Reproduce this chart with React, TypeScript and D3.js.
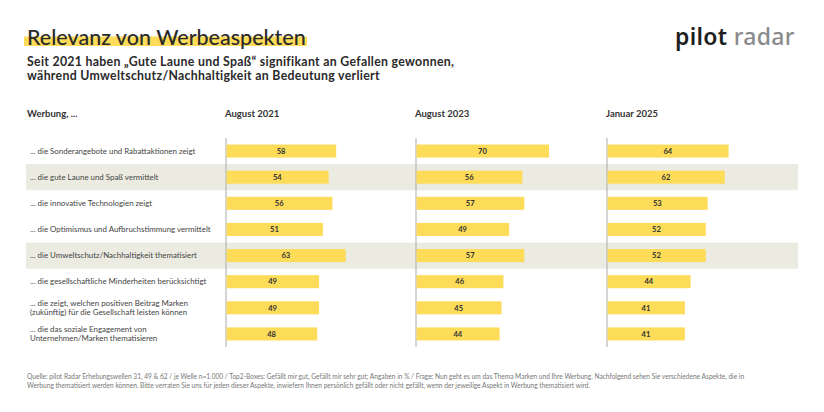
import React from "react";
import * as d3 from "d3";

const categories: string[][] = [
  ["... die Sonderangebote und Rabattaktionen zeigt"],
  ["... die gute Laune und Spaß vermittelt"],
  ["... die innovative Technologien zeigt"],
  ["... die Optimismus und Aufbruchstimmung vermittelt"],
  ["... die Umweltschutz/Nachhaltigkeit thematisiert"],
  ["... die gesellschaftliche Minderheiten berücksichtigt"],
  ["... die zeigt, welchen positiven Beitrag Marken", "(zukünftig) für die Gesellschaft leisten können"],
  ["... die das soziale Engagement von", "Unternehmen/Marken thematisieren"],
];
const highlighted = [1, 4];
const waves = ["August 2021", "August 2023", "Januar 2025"];
const values2021 = [58, 54, 56, 51, 63, 49, 49, 48];
const values2023 = [70, 56, 57, 49, 57, 46, 45, 44];
const values2025 = [64, 62, 53, 52, 52, 44, 41, 41];
const series = [values2021, values2023, values2025];

const title = "Relevanz von Werbeaspekten";
const subtitle = [
  "Seit 2021 haben „Gute Laune und Spaß“ signifikant an Gefallen gewonnen,",
  "während Umweltschutz/Nachhaltigkeit an Bedeutung verliert",
];
const footer = [
  "Quelle: pilot Radar Erhebungswellen 31, 49 & 62 / je Welle n=1.000 / Top2-Boxes: Gefällt mir gut, Gefällt mir sehr gut; Angaben in % / Frage: Nun geht es um das Thema Marken und Ihre Werbung. Nachfolgend sehen Sie verschiedene Aspekte, die in",
  "Werbung thematisiert werden können. Bitte verraten Sie uns für jeden dieser Aspekte, inwiefern Ihnen persönlich gefällt oder nicht gefällt, wenn der jeweilige Aspekt in Werbung thematisiert wird.",
];

const FONT = "Lato, 'Noto Sans', sans-serif";
const YELLOW = "#fddc5a";
const BAND = "#ebebe2";

export default function App() {
  const W = 824, H = 412;
  const y = d3.scaleBand<number>().domain(d3.range(categories.length)).range([138, 347]).padding(0);
  const panelStarts = [226, 416, 607];
  const xs = panelStarts.map((s) => d3.scaleLinear().domain([0, 100]).range([s, s + 190]));
  const bw = y.bandwidth();
  const barH = bw * 0.5;

  return (
    <svg width={W} height={H} style={{ position: "absolute", left: 0, top: 0, background: "#fff" }} fontFamily={FONT}>
      <rect x={0} y={0} width={W} height={H} fill="#fff" />
      {/* title */}
      <rect x={24} y={36.5} width={283} height={9.5} fill={YELLOW} />
      <text x={27} y={44.5} fontSize={21.5} fill="#2a2a2a" fontWeight={500}>{title}</text>
      {subtitle.map((s, i) => (
        <text key={i} x={27} y={66 + i * 14} fontSize={12.3} letterSpacing={0.3} fontWeight={700} fill="#2a2a2a">{s}</text>
      ))}
      {/* logo */}
      <text x={675} y={45} fontSize={23} fontWeight={600} fill="#1f1f1f" fontFamily="'Noto Sans', sans-serif" letterSpacing={0.3}>
        pilot <tspan fill="#8a8a8a" fontWeight={500}>radar</tspan>
      </text>
      {/* headers */}
      <text x={27} y={117} fontSize={9.5} fontWeight={700} fill="#333">Werbung, ...</text>
      {waves.map((w, i) => (
        <text key={w} x={panelStarts[i] - 1} y={117} fontSize={9.5} fontWeight={700} fill="#333">{w}</text>
      ))}
      {/* bands */}
      {highlighted.map((r) => (
        <rect key={r} x={26} y={y(r)!} width={772} height={bw} fill={BAND} />
      ))}
      {/* row labels */}
      {categories.map((lines, i) => {
        const cy = y(i)! + bw / 2;
        return (
          <text key={i} x={30} fontSize={7.9} fill="#444">
            {lines.map((l, j) => (
              <tspan key={j} x={30} y={cy + 2.8 + (j - (lines.length - 1) / 2) * 9.4}>{l}</tspan>
            ))}
          </text>
        );
      })}
      {/* axis lines */}
      {xs.map((x, i) => (
        <line key={i} x1={x(0)} x2={x(0)} y1={y.range()[0]} y2={y.range()[1]} stroke="#aaa" strokeWidth={1} />
      ))}
      {/* bars */}
      {series.map((vals, si) =>
        vals.map((v, i) => {
          const cy = y(i)! + bw / 2;
          const x = xs[si];
          return (
            <g key={`${si}-${i}`}>
              <rect x={x(0) + 0.5} y={cy - barH / 2} width={x(v) - x(0) - 0.5} height={barH} fill={YELLOW} />
              <text x={(x(0) + x(v)) / 2} y={cy + 2.8} fontSize={7.6} fontWeight={700} fill="#333" textAnchor="middle">{v}</text>
            </g>
          );
        })
      )}
      {/* footer */}
      {footer.map((f, i) => (
        <text key={i} x={27} y={379 + i * 8.5} fontSize={6.6} fill="#777">{f}</text>
      ))}
    </svg>
  );
}
